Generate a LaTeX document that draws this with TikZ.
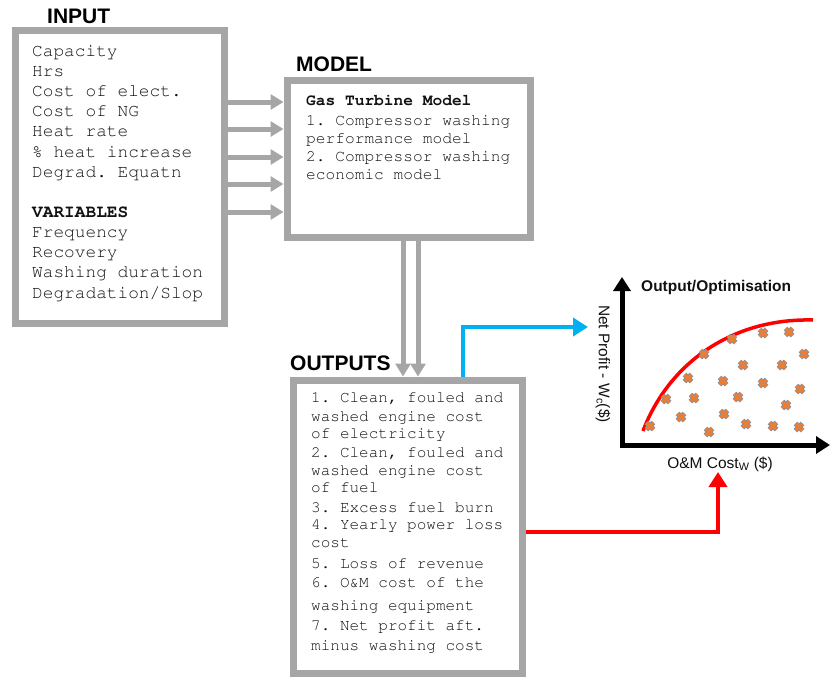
\documentclass[tikz,border=0pt]{standalone}
\usepackage{fontspec}
\setmainfont{Liberation Sans}
\newcommand\courierfam{\fontencoding{T1}\fontfamily{pcr}\selectfont}
\usetikzlibrary{arrows.meta}
\definecolor{boxgray}{HTML}{A6A6A6}
\definecolor{flowblue}{HTML}{00B0F0}
\definecolor{flowred}{HTML}{FF0000}
\definecolor{markorange}{HTML}{ED7D31}
\definecolor{markedge}{HTML}{7F95B0}
\definecolor{inktext}{HTML}{111111}

\begin{document}
\frenchspacing
\begin{tikzpicture}[x=1pt,y=-1pt,
  panel/.style={draw=boxgray, line width=7pt, fill=white, inner sep=0pt, rectangle},
  heading/.style={font=\fontsize{21}{21}\selectfont\bfseries, anchor=base west, inner sep=0pt, text=black},
  intext/.style={font=\courierfam\fontsize{17.8}{17.8}\selectfont, anchor=base west, inner sep=0pt, text=inktext},
  modtext/.style={font=\courierfam\fontsize{16.2}{16.2}\selectfont, anchor=base west, inner sep=0pt, text=inktext},
  outtext/.style={font=\courierfam\fontsize{16}{16}\selectfont, anchor=base west, inner sep=0pt, text=inktext},
  charttext/.style={font=\fontsize{15.5}{15.5}\selectfont, inner sep=0pt, text=inktext},
  grayarrow/.style={draw=boxgray, line width=5pt, -{Triangle[length=13pt,width=15pt]}},
  bluearrow/.style={draw=flowblue, line width=4pt, -{Triangle[length=15pt,width=18pt]}},
  redarrow/.style={draw=flowred, line width=4pt, -{Triangle[length=15pt,width=18pt]}},
  axisline/.style={draw=black, line width=5pt, line join=miter,
    {Triangle[length=14pt,width=17pt]}-{Triangle[length=14pt,width=17pt]}},
  frontier/.style={draw=flowred, line width=3.5pt},
  markback/.style={draw=markedge, line width=5pt},
  markfront/.style={draw=markorange, line width=3pt}
]
\useasboundingbox (0,0) rectangle (831,678);

% ---- boxes ----
\node[panel, minimum width=209pt, minimum height=293pt] (inbox) at (119.5,176.5) {};
\node[panel, minimum width=243pt, minimum height=157pt] (model) at (408.5,158.5) {};
\node[panel, minimum width=229pt, minimum height=293pt] (outputs) at (407.5,526.5) {};

% ---- headings ----
\node[heading] (inhead) at (47,23) {INPUT};
\node[heading] (modelhead) at (296,71) {MODEL};
\node[heading] (outhead) at (290,370) {OUTPUTS};

% ---- input list ----
\foreach \y/\t [count=\i] in {56/Capacity, 76/Hrs, 96/Cost of elect., 116/Cost of NG,
    136/Heat rate, 157/\% heat increase, 177/Degrad. Equatn, 217/{\bfseries VARIABLES},
    237/Frequency, 257/Recovery, 277/Washing duration, 298/{Degradation/Slop}}
  \node[intext] (inl\i) at (32,\y) {\t};

% ---- model text ----
\foreach \y/\t [count=\i] in {105/{\bfseries Gas Turbine Model}, 125/1. Compressor washing,
    143/performance model, 161/2. Compressor washing, 179/economic model}
  \node[modtext] (mdl\i) at (306,\y) {\t};

% ---- outputs text ----
\foreach \y/\t [count=\i] in {402/{1. Clean, fouled and}, 421/washed engine cost,
    438/of electricity, 457/{2. Clean, fouled and}, 475/washed engine cost, 492/of fuel,
    512/3. Excess fuel burn, 529/4. Yearly power loss, 547/cost, 568/5. Loss of revenue,
    587/6. O\&M cost of the, 610/washing equipment, 630/7. Net profit aft.,
    650/minus washing cost}
  \node[outtext] (outl\i) at (311,\y) {\t};

% ---- input -> model arrows ----
\foreach \y [count=\i] in {102,129,157,184,212} {
  \coordinate (feed\i) at (0,\y);
  \draw[grayarrow] (inbox.east |- feed\i) -- (model.west |- feed\i);
}

% ---- model -> outputs arrows ----
\coordinate (dropa) at (403,0);
\coordinate (dropb) at (418,0);
\draw[grayarrow] (model.south -| dropa) -- (outputs.north -| dropa);
\draw[grayarrow] (model.south -| dropb) -- (outputs.north -| dropb);

% ---- chart ----
\coordinate (origin) at (622,445);
\coordinate (ytop) at (622,277);
\coordinate (xend) at (830,445);
\draw[axisline] (ytop) -- (origin) -- (xend);

\node[charttext, font=\fontsize{15.5}{15.5}\selectfont\bfseries, anchor=base west] (charttitle) at (641,291) {Output/Optimisation};
\node[charttext, rotate=-90] (ylab) at (603,364) {Net Profit - W\textsubscript{c}(\$)};
\node[charttext, anchor=base] (xlab) at (720,468) {O\&M Cost\textsubscript{W} (\$)};

\draw[frontier] (643,431) .. controls (668,365) and (730,318) .. (813,320);

\foreach \p in {(650,426),(666,399),(681,417),(688,378),(694,398),(704,354),(709,432),
    (723,381),(724,414),(732,339),(738,397),(743,365),(746,424),(763,333),(763,383),
    (773,426),(782,365),(786,405),(789,332),(800,389),(804,354),(799,427)} {
  \draw[markback] \p +(-3.5,-3.5) -- +(3.5,3.5) \p +(-3.5,3.5) -- +(3.5,-3.5);
  \draw[markfront] \p +(-3.5,-3.5) -- +(3.5,3.5) \p +(-3.5,3.5) -- +(3.5,-3.5);
}

% ---- outputs -> chart connectors ----
\coordinate (bluex) at (463,0);
\coordinate (blueend) at (588,327);
\draw[bluearrow] (outputs.north -| bluex) |- (blueend);

\coordinate (redy) at (0,532);
\coordinate (redend) at (718,472);
\draw[redarrow] (outputs.east |- redy) -| (redend);
\end{tikzpicture}
\end{document}
